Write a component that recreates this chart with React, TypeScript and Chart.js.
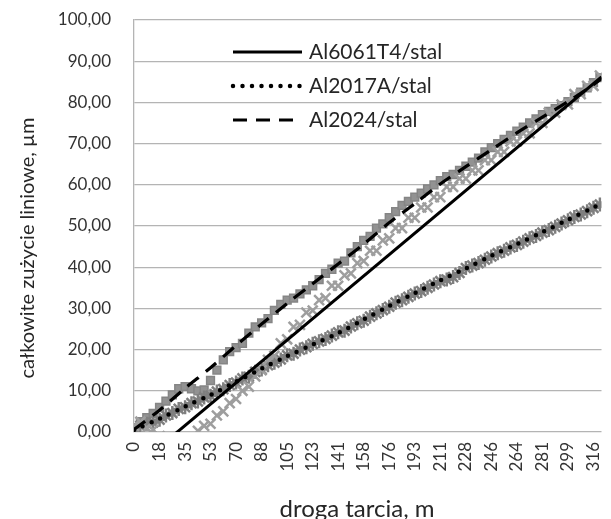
import React, { useEffect, useRef } from 'react';
import { Chart, registerables } from 'chart.js';

Chart.register(...registerables);

const FONT = 'Lato, "Open Sans", sans-serif';

// sample positions along the friction path, m
const distance = [
  0, 4.4, 8.8, 13.2, 17.6, 22.0, 26.4, 30.8, 35.2, 39.6,
  44.0, 48.3, 52.7, 57.1, 61.5, 65.9, 70.3, 74.7, 79.1, 83.5,
  87.9, 92.3, 96.7, 101.1, 105.5, 109.9, 114.3, 118.7, 123.1, 127.5,
  131.9, 136.3, 140.6, 145.0, 149.4, 153.8, 158.2, 162.6, 167.0, 171.4,
  175.8, 180.2, 184.6, 189.0, 193.4, 197.8, 202.2, 206.6, 211.0, 215.4,
  219.8, 224.2, 228.6, 233.0, 237.3, 241.7, 246.1, 250.5, 254.9, 259.3,
  263.7, 268.1, 272.5, 276.9, 281.3, 285.7, 290.1, 294.5, 298.9, 303.3,
  307.7, 312.1, 316.5, 320.9,
];

const al6061 = [
  1.5, 2.5, 1.0, 0.5, -1.0, -2.5, -3.0, -3.5, -2.5, -1.5,
  0.3, 1.5, 2.0, 4.0, 5.0, 7.0, 8.0, 10.0, 11.0, 13.5,
  15.0, 17.5, 18.5, 21.5, 22.5, 25.5, 26.0, 29.0, 29.5, 32.0,
  32.5, 35.5, 35.5, 38.0, 38.5, 41.0, 41.5, 44.0, 44.0, 46.5,
  47.0, 49.5, 49.5, 52.0, 52.0, 54.5, 54.5, 57.0, 57.0, 59.5,
  59.5, 61.5, 61.5, 63.5, 63.5, 66.0, 66.0, 68.0, 68.0, 70.5,
  70.5, 72.5, 72.5, 75.0, 75.0, 77.5, 77.5, 79.5, 79.5, 82.0,
  82.0, 84.0, 84.0, 86.5,
];

const al2017 = [
  0.3, 1.5, 2.0, 2.3, 3.0, 4.0, 4.6, 5.6, 6.0, 7.0,
  7.4, 8.4, 8.8, 9.8, 10.4, 11.4, 12.0, 13.0, 13.4, 14.6,
  15.2, 16.2, 16.8, 17.6, 18.6, 19.0, 20.0, 20.6, 21.4, 22.0,
  22.6, 23.4, 24.2, 24.6, 25.6, 26.4, 27.0, 28.0, 28.8, 29.6,
  30.4, 31.4, 32.0, 32.8, 33.6, 34.2, 35.0, 35.8, 36.6, 37.0,
  37.6, 38.6, 39.8, 40.4, 41.0, 41.8, 42.6, 43.4, 44.0, 44.8,
  45.4, 46.2, 47.0, 47.6, 48.4, 49.0, 49.8, 50.6, 51.4, 52.2,
  52.8, 53.6, 54.4, 55.2,
];

const al2024 = [
  1.0, 2.5, 3.5, 4.5, 6.0, 7.5, 9.0, 10.5, 11.0, 10.5,
  10.0, 10.2, 12.5, 15.0, 17.5, 19.5, 20.5, 21.5, 24.0, 25.5,
  26.5, 27.5, 29.5, 31.0, 32.0, 32.5, 33.5, 34.5, 35.5, 37.0,
  38.5, 39.5, 41.0, 41.5, 43.5, 45.0, 46.5, 47.5, 49.5, 50.5,
  52.0, 53.5, 55.0, 56.0, 57.0, 58.0, 59.0, 60.0, 61.0, 62.0,
  62.5, 63.5, 64.5, 65.5, 66.5, 68.0, 69.0, 70.0, 71.0, 72.0,
  73.0, 74.0, 75.0, 76.0, 77.0, 77.8, 78.5, 79.2, 80.2, 81.2,
  82.5, 83.5, 84.8, 86.0,
];

// trend lines
const trendDistance = [
  0, 17.58, 35.16, 52.74, 70.32, 87.9, 105.48, 123.06, 140.64, 158.22,
  175.8, 193.38, 210.96, 228.54, 246.12, 263.7, 281.28, 298.86, 316.44, 322,
];
const trend2017 = [
  0.5, 3.2, 6.2, 9.0, 12.2, 15.4, 18.4, 21.2, 24.0, 27.3,
  30.6, 33.7, 36.8, 39.7, 42.8, 45.6, 48.5, 51.5, 54.5, 55.5,
];
const trend2024 = [
  0.6, 5.3, 10.6, 15.6, 21.0, 26.2, 31.2, 36.0, 40.8, 45.6,
  50.8, 55.4, 60.2, 64.4, 68.5, 72.6, 76.4, 80.2, 84.3, 85.8,
];
const trend6061Distance = [0, 322];
const trend6061 = [-8.8, 86.2];

const tickValues = [
  0, 17.58, 35.16, 52.74, 70.32, 87.9, 105.48, 123.06, 140.64, 158.22,
  175.8, 193.38, 210.96, 228.54, 246.12, 263.7, 281.28, 298.86, 316.44,
];
const tickLabels = [
  '0', '18', '35', '53', '70', '88', '105', '123', '141', '158',
  '176', '193', '211', '228', '246', '264', '281', '299', '316',
];

const seriesNames = ['Al6061T4/stal', 'Al2017A/stal', 'Al2024/stal'];
const xTitle = 'droga tarcia, m';
const yTitle = 'całkowite zużycie liniowe, µm';

const pts = (xs: number[], ys: number[]) => xs.map((x, i) => ({ x, y: ys[i] }));

const overlayPlugin = {
  id: 'overlay',
  afterDraw(chart: any) {
    const ctx = chart.ctx as CanvasRenderingContext2D;
    const area = chart.chartArea;
    ctx.save();
    const legendSets = chart.data.datasets.filter((d: any) => d.legendIndex !== undefined);
    legendSets.sort((a: any, b: any) => a.legendIndex - b.legendIndex);
    legendSets.forEach((ds: any, i: number) => {
      const y = area.top + 32 + i * 34;
      const x0 = area.left + 99;
      const x1 = area.left + 168;
      ctx.beginPath();
      ctx.setLineDash(ds.borderDash || []);
      ctx.lineCap = ds.borderCapStyle || 'butt';
      ctx.lineWidth = ds.borderWidth;
      ctx.strokeStyle = ds.borderColor;
      ctx.moveTo(x0, y);
      ctx.lineTo(x1, y);
      ctx.stroke();
      ctx.setLineDash([]);
      ctx.fillStyle = '#262626';
      ctx.font = `21px ${FONT}`;
      ctx.textAlign = 'left';
      ctx.textBaseline = 'middle';
      ctx.fillText(ds.label, x1 + 7, y);
    });
    ctx.fillStyle = '#262626';
    ctx.font = `24px ${FONT}`;
    ctx.textAlign = 'center';
    ctx.textBaseline = 'alphabetic';
    ctx.fillText(xTitle, 357, 517);
    ctx.translate(34, 248);
    ctx.rotate(-Math.PI / 2);
    ctx.font = `20px ${FONT}`;
    ctx.fillText(yTitle, 0, 0);
    ctx.restore();
  },
};

export default function App() {
  const ref = useRef<HTMLCanvasElement>(null);
  useEffect(() => {
    const canvas = ref.current!;
    const markerBase = { type: 'line', showLine: false, order: 1 };
    const chart = new Chart(canvas, {
      type: 'line',
      data: {
        datasets: [
          {
            ...markerBase,
            label: 'm6061',
            data: pts(distance, al6061),
            pointStyle: 'crossRot',
            pointRadius: 7,
            pointBorderWidth: 2.5,
            borderColor: '#9e9e9e',
            backgroundColor: '#9e9e9e',
          },
          {
            ...markerBase,
            label: 'm2017',
            data: pts(distance, al2017),
            pointStyle: 'star',
            pointRadius: 7,
            pointBorderWidth: 2.5,
            borderColor: '#7f7f7f',
            backgroundColor: '#7f7f7f',
          },
          {
            ...markerBase,
            label: 'm2024',
            data: pts(distance, al2024),
            pointStyle: 'rect',
            pointRadius: 5.5,
            pointBorderWidth: 1.5,
            borderColor: '#858585',
            backgroundColor: '#929292',
          },
          {
            label: seriesNames[0],
            legendIndex: 0,
            data: pts(trend6061Distance, trend6061),
            borderColor: '#000000',
            borderWidth: 3,
            pointRadius: 0,
            order: 0,
          },
          {
            label: seriesNames[1],
            legendIndex: 1,
            data: pts(trendDistance, trend2017),
            borderColor: '#000000',
            borderWidth: 4.5,
            borderDash: [0, 9.5],
            borderCapStyle: 'round',
            pointRadius: 0,
            tension: 0.3,
            order: 0,
          },
          {
            label: seriesNames[2],
            legendIndex: 2,
            data: pts(trendDistance, trend2024),
            borderColor: '#000000',
            borderWidth: 3.2,
            borderDash: [14, 9],
            pointRadius: 0,
            tension: 0.3,
            order: 0,
          },
        ] as any,
      },
      options: {
        animation: false,
        responsive: false,
        devicePixelRatio: 1,
        layout: { padding: { top: 20, left: 0, right: 0, bottom: 0 } },
        plugins: { legend: { display: false }, tooltip: { enabled: false } },
        scales: {
          x: {
            type: 'linear',
            min: 0,
            max: 322,
            afterBuildTicks: (scale: any) => {
              scale.ticks = tickValues.map((v) => ({ value: v }));
            },
            afterFit: (scale: any) => {
              scale.height = 87;
              scale.paddingLeft = 0;
              scale.paddingRight = 0;
            },
            ticks: {
              autoSkip: false,
              minRotation: 90,
              maxRotation: 90,
              padding: 10,
              color: '#333333',
              font: { family: FONT, size: 17 },
              callback: (_v: any, i: number) => tickLabels[i],
            },
            grid: { display: false, drawTicks: false },
            border: { display: false },
          },
          y: {
            min: 0,
            max: 100,
            afterFit: (scale: any) => {
              scale.width = 134;
              scale.paddingTop = 0;
              scale.paddingBottom = 0;
            },
            ticks: {
              stepSize: 10,
              padding: 23,
              color: '#333333',
              font: { family: FONT, size: 17 },
              callback: (v: any) => Number(v).toFixed(2).replace('.', ','),
            },
            grid: { color: '#b4b4b4', lineWidth: 1.3, drawTicks: false },
            border: { display: true, color: '#b4b4b4', width: 1.3 },
          },
        },
      } as any,
      plugins: [overlayPlugin],
    });
    return () => chart.destroy();
  }, []);
  return (
    <div style={{ position: 'absolute', left: 0, top: 0, width: 611, height: 519, background: '#fff' }}>
      <canvas ref={ref} width={611} height={519} style={{ display: 'block' }} />
    </div>
  );
}
